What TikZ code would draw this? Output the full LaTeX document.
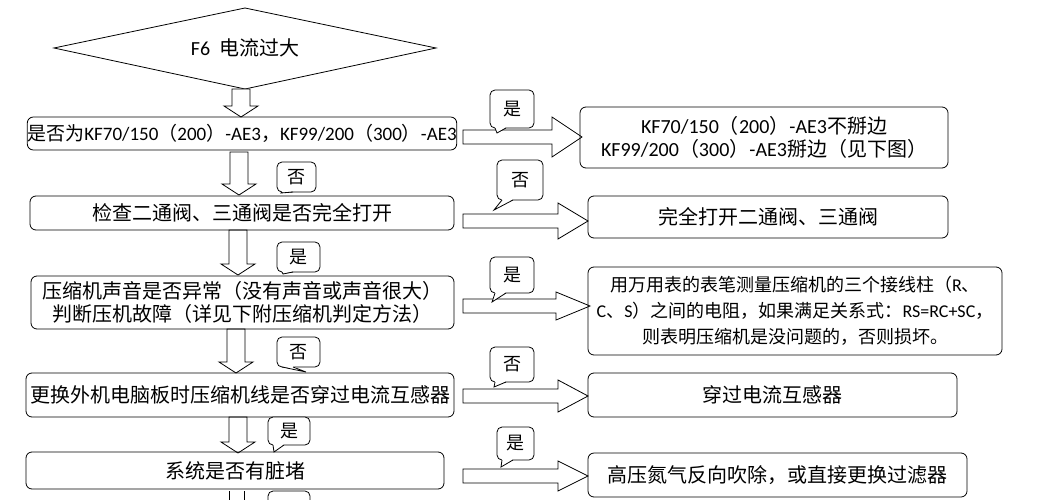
\documentclass[tikz,border=0pt]{standalone}
\usepackage{fontspec}
\setmainfont{Noto Sans CJK SC}
\newfontfamily\lat{Carlito}
\newcommand{\Lt}[1]{{\lat #1}}
\begin{document}
\begin{tikzpicture}[x=1pt,y=-1pt,
  box/.style={draw,rounded corners=6pt,line width=0.8pt,inner sep=0pt,align=center,font=\fontsize{20}{23}\selectfont},
  blk/.style={draw,line width=0.8pt,fill=white},
  cal/.style={draw,rounded corners=5pt,line width=0.8pt,fill=white,inner sep=0pt,font=\fontsize{18}{20}\selectfont}]
\useasboundingbox (0,0) rectangle (1059,500);
\newcommand{\bx}[6]{\node[box,minimum width=#4-#2,minimum height=#5-#3] (#1) at ({(#2+#4)/2},{(#3+#5)/2}) {#6};}
\newcommand{\dar}[3]{\draw[blk] (#1-9,#2) -- (#1+9,#2) -- (#1+9,#3-11) -- (#1+17,#3-11) -- (#1,#3) -- (#1-17,#3-11) -- (#1-9,#3-11) -- cycle;}
\newcommand{\rar}[5]{\draw[blk] (#1,#3-7) -- (#4,#3-7) -- (#4,#3-#5) -- (#2,#3) -- (#4,#3+#5) -- (#4,#3+7) -- (#1,#3+7) -- cycle;}
\newcommand{\cl}[8]{\node[cal,minimum width=#4-#2,minimum height=#5-#3] (#1) at ({(#2+#4)/2},{(#3+#5)/2}) {#8};
  \fill[white] (#2+5,#5-0.8) -- (#2+16,#5-0.8) -- (#6,#7) -- cycle;
  \draw[line width=0.8pt] (#2+5,#5) -- (#6,#7) -- (#2+16,#5);}
% diamond
\draw[line width=0.8pt] (54,48) -- (245,8) -- (436,48) -- (245,89) -- cycle;
\node[font=\fontsize{20}{22}\selectfont] (d) at (245,48) {\Lt{F6}\ \ 电流过大};
% down arrows
\dar{241}{89}{117}
\dar{239}{152}{195}
\dar{238}{230}{275}
\dar{236}{329}{373}
\dar{238}{417}{453}
\draw[blk] (229,491) -- (229,502) (244,491) -- (244,502);
% left boxes
\bx{b1}{30}{117}{454}{150}{\fontsize{19}{22}\selectfont 是否为\Lt{KF70/150}（\Lt{200}）\Lt{-AE3}，\Lt{KF99/200}（\Lt{300}）\Lt{-AE3}}
\bx{b2}{30}{196}{454}{230}{检查二通阀、三通阀是否完全打开}
\bx{b3}{31}{276}{454}{329}{压缩机声音是否异常（没有声音或声音很大）\\判断压机故障（详见下附压缩机判定方法）}
\bx{b4}{26}{373}{454}{417}{更换外机电脑板时压缩机线是否穿过电流互感器}
\bx{b5}{26}{452}{444}{489}{系统是否有脏堵}
% right arrows
\rar{463}{582}{137}{552}{20}
\rar{463}{588}{221}{558}{18}
\rar{463}{590}{306}{556}{14}
\rar{463}{588}{396}{558}{16}
\rar{463}{588}{476}{558}{15}
% right boxes
\bx{r1}{580}{107}{948}{168}{\Lt{KF70/150}（\Lt{200}）\Lt{-AE3}不掰边\\\Lt{KF99/200}（\Lt{300}）\Lt{-AE3}掰边（见下图）}
\bx{r2}{588}{196}{948}{238}{完全打开二通阀、三通阀}
\node[box,minimum width=414,minimum height=88,font=\fontsize{18}{26}\selectfont] (r3) at (795,311) {用万用表的表笔测量压缩机的三个接线柱（\Lt{R}、\\\Lt{C}、\Lt{S}）之间的电阻，如果满足关系式：\Lt{RS=RC+SC}，\\则表明压缩机是没问题的，否则损坏。};
\bx{r4}{588}{373}{957}{417}{穿过电流互感器}
\bx{r5}{588}{453}{967}{497}{高压氮气反向吹除，或直接更换过滤器}
% callouts
\cl{c1}{490}{90}{534}{128}{497}{133}{是}
\cl{c2}{277}{162}{316}{192}{281}{193}{否}
\cl{c3}{497}{160}{543}{200}{494}{210}{否}
\cl{c4}{277}{242}{320}{272}{283}{274}{是}
\cl{c5}{490}{257}{534}{293}{492}{302}{是}
\cl{c6}{277}{337}{320}{367}{306}{372}{否}
\cl{c7}{490}{347}{534}{382}{494}{387}{否}
\cl{c8}{268}{417}{310}{445}{274}{452}{是}
\cl{c9}{497}{427}{534}{460}{501}{467}{是}
\draw[line width=0.8pt,rounded corners=5pt] (268,502) -- (268,491) -- (310,491) -- (310,502);
\end{tikzpicture}
\end{document}
